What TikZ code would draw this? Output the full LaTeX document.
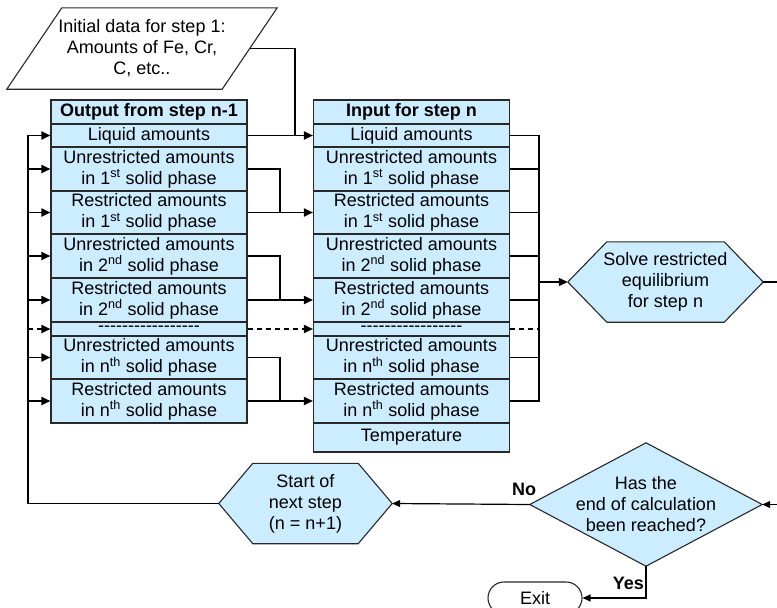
\documentclass[tikz,border=0pt]{standalone}
\usepackage{fontspec}
\setmainfont{Liberation Sans}
\usetikzlibrary{arrows.meta,shapes.misc,backgrounds}
\definecolor{cellfill}{RGB}{204,236,255}
\definecolor{edgegray}{RGB}{40,40,40}
\newcommand\dashchar{\mbox{-}}
\newcommand\dashrow{\dashchar\dashchar\dashchar\dashchar\dashchar\dashchar\dashchar\dashchar\dashchar\dashchar\dashchar\dashchar\dashchar\dashchar\dashchar\dashchar\dashchar}
\begin{document}
\begin{tikzpicture}[x=1pt,y=-1pt,
  font=\fontsize{18}{21}\selectfont,
  cellbase/.style={draw=edgegray, line width=1.1pt, fill=cellfill, minimum width=196pt, inner sep=0pt, text=black},
  cell/.style={cellbase, align=center},
  headcell/.style={cellbase, font=\fontsize{18}{21}\selectfont\bfseries},
  conn/.style={line width=1.8pt, draw=black},
  arr/.style={conn, -{Triangle[length=9pt,width=8pt]}},
  dconn/.style={conn, dash pattern=on 5pt off 4pt},
  darr/.style={dconn, -{Triangle[length=9pt,width=8pt]}},
  thin/.style={line width=1.2pt, draw=black},
  thinarr/.style={thin, -{Triangle[length=8pt,width=7pt]}},
  shapetext/.style={align=center, inner sep=0pt, text=black},
  outline/.style={draw=edgegray, line width=1.1pt, fill=cellfill, line join=miter},
  lbl/.style={font=\fontsize{18}{21}\selectfont\bfseries, inner sep=0pt}
]
\useasboundingbox (0,0) rectangle (777,608);
\clip (0,0) rectangle (777,608);

% initial data (parallelogram)
\node[shapetext, minimum width=270pt, minimum height=81pt] (init) at (142,48.5)
  {Initial data for step 1:\\Amounts of Fe, Cr,\\C, etc..};
\coordinate (initout) at ([xshift=-27.5pt]init.east);

% left table
\node[headcell, minimum height=24pt] (L0) at (149,112) {Output from step n-1};
\node[cell, minimum height=23pt] (L1) at (149,135.5) {Liquid amounts};
\node[cell, minimum height=44pt] (L2) at (149,169) {Unrestricted amounts\\in 1\textsuperscript{st} solid phase};
\node[cell, minimum height=43pt] (L3) at (149,212.5) {Restricted amounts\\in 1\textsuperscript{st} solid phase};
\node[cell, minimum height=44pt] (L4) at (149,256) {Unrestricted amounts\\in 2\textsuperscript{nd} solid phase};
\node[cell, minimum height=44pt] (L5) at (149,300) {Restricted amounts\\in 2\textsuperscript{nd} solid phase};
\node[cellbase, minimum height=14pt] (L6) at (149,329) {\dashrow};
\node[cell, minimum height=43pt] (L7) at (149,357.5) {Unrestricted amounts\\in n\textsuperscript{th} solid phase};
\node[cell, minimum height=44pt] (L8) at (149,401) {Restricted amounts\\in n\textsuperscript{th} solid phase};

% right table
\node[headcell, minimum height=24pt] (R0) at (411.5,112) {Input for step n};
\node[cell, minimum height=23pt] (R1) at (411.5,135.5) {Liquid amounts};
\node[cell, minimum height=44pt] (R2) at (411.5,169) {Unrestricted amounts\\in 1\textsuperscript{st} solid phase};
\node[cell, minimum height=43pt] (R3) at (411.5,212.5) {Restricted amounts\\in 1\textsuperscript{st} solid phase};
\node[cell, minimum height=44pt] (R4) at (411.5,256) {Unrestricted amounts\\in 2\textsuperscript{nd} solid phase};
\node[cell, minimum height=44pt] (R5) at (411.5,300) {Restricted amounts\\in 2\textsuperscript{nd} solid phase};
\node[cellbase, minimum height=14pt] (R6) at (411.5,329) {\dashrow};
\node[cell, minimum height=43pt] (R7) at (411.5,357.5) {Unrestricted amounts\\in n\textsuperscript{th} solid phase};
\node[cell, minimum height=44pt] (R8) at (411.5,401) {Restricted amounts\\in n\textsuperscript{th} solid phase};
\node[cell, minimum height=29pt] (R9) at (411.5,437.5) {Temperature};

% shapes with text
\node[shapetext, minimum width=195pt, minimum height=80pt] (solve) at (665.5,282) {Solve restricted\\equilibrium\\for step n};
\node[shapetext, minimum width=173pt, minimum height=80pt] (start) at (305.5,503.5) {Start of\\next step\\(n = n+1)};
\node[shapetext, minimum width=232pt, minimum height=123pt] (dec) at (646,504.5) {Has the\\end of calculation\\been reached?};
\node[rounded rectangle, draw=edgegray, line width=1.1pt, fill=white, minimum width=94pt, minimum height=32pt, inner sep=0pt] (exit) at (535,598) {Exit};
\node[lbl] (no) at (524,489) {No};
\node[lbl, anchor=east] (yes) at (644,583) {Yes};

\begin{scope}[on background layer]
  \draw[outline, fill=white] ([xshift=55pt]init.north west) -- (init.north east)
     -- ([xshift=-55pt]init.south east) -- (init.south west) -- cycle;
  \draw[outline] (solve.west) -- ([xshift=39pt]solve.north west) -- ([xshift=-39pt]solve.north east)
     -- (solve.east) -- ([xshift=-39pt]solve.south east) -- ([xshift=39pt]solve.south west) -- cycle;
  \draw[outline] (start.west) -- ([xshift=34pt]start.north west) -- ([xshift=-34pt]start.north east)
     -- (start.east) -- ([xshift=-34pt]start.south east) -- ([xshift=34pt]start.south west) -- cycle;
  \draw[outline] (dec.west) -- (dec.north) -- (dec.east) -- (dec.south) -- cycle;
\end{scope}

% junction coordinates
\coordinate (jm) at (280,0);
\coordinate (jl) at (28,503.5);
\coordinate (jr) at (539,282);
\coordinate (rout) at (777,282);
\coordinate (din) at (777,504.5);

% initial data into liquid line
\draw[line width=1.5pt] (initout) -| ([xshift=-18pt]R1.west);

% between tables
\draw[arr] (L1.east) -- (R1.west);
\draw[conn] (L2.east) -| (jm |- R3.west);
\draw[arr] (L3.east) -- (R3.west);
\draw[conn] (L4.east) -| (jm |- R5.west);
\draw[arr] (L5.east) -- (R5.west);
\draw[darr] (L6.east) -- (R6.west);
\draw[conn] (L7.east) -| (jm |- R8.west);
\draw[arr] (L8.east) -- (R8.west);

% right collector
\draw[conn] (R1.east) -- (jr |- R1.east) -- (jr |- R8.east) -- (R8.east);
\draw[conn] (R2.east) -- (jr |- R2.east);
\draw[conn] (R3.east) -- (jr |- R3.east);
\draw[conn] (R4.east) -- (jr |- R4.east);
\draw[conn] (R5.east) -- (jr |- R5.east);
\draw[dconn] (R6.east) -- (jr |- R6.east);
\draw[conn] (R7.east) -- (jr |- R7.east);
\draw[arr] (jr) -- (solve.west);
\draw[thin] (solve.east) -- (rout);

% decision
\draw[thinarr] (din) -- (dec.east);
\draw[thinarr] (dec.west) -- (start.east);
\draw[thinarr] (dec.south) |- (exit.east);

% loop back
\draw[arr] (start.west) -- (jl) -- (jl |- L1.west) -- (L1.west);
\draw[arr] (jl |- L2.west) -- (L2.west);
\draw[arr] (jl |- L3.west) -- (L3.west);
\draw[arr] (jl |- L4.west) -- (L4.west);
\draw[arr] (jl |- L5.west) -- (L5.west);
\draw[darr] (jl |- L6.west) -- (L6.west);
\draw[arr] (jl |- L7.west) -- (L7.west);
\draw[arr] (jl |- L8.west) -- (L8.west);
\end{tikzpicture}
\end{document}
